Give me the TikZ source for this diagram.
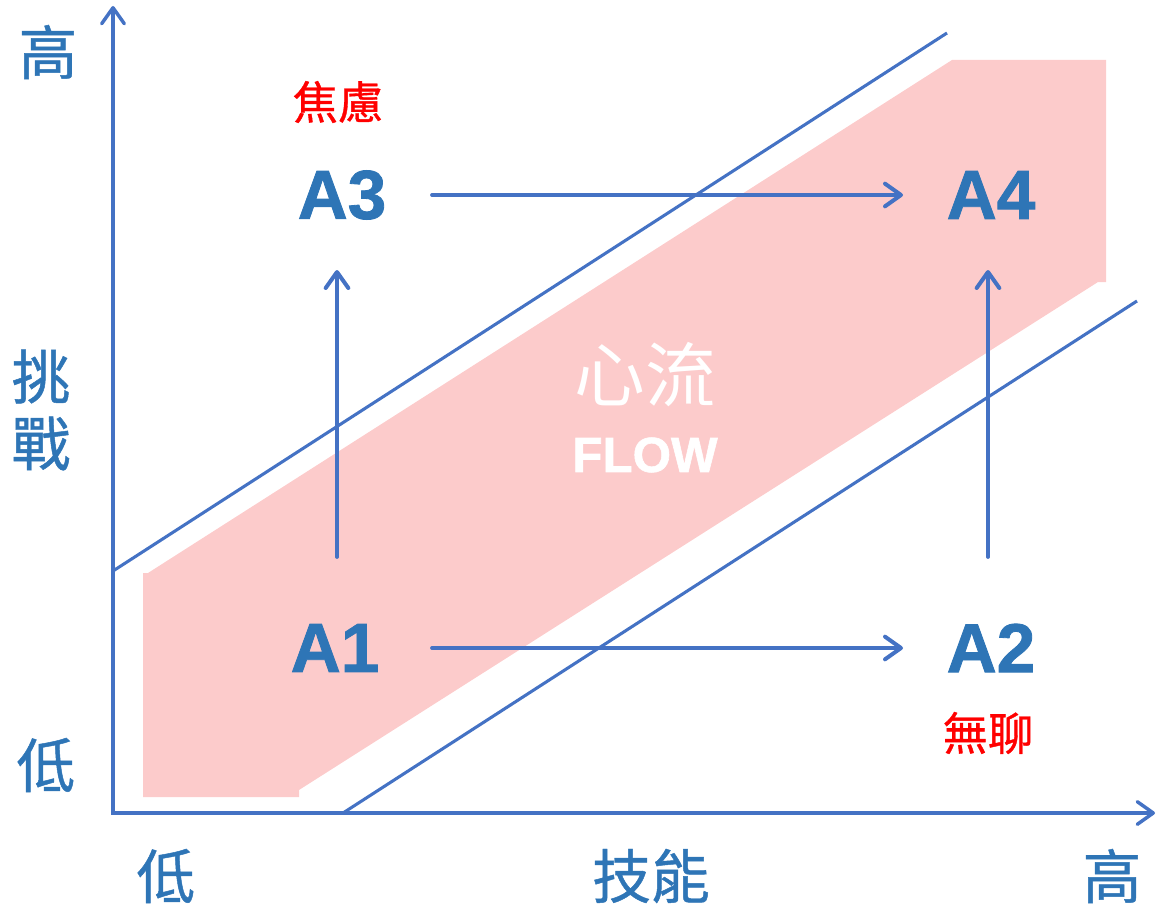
\documentclass[tikz,border=0pt]{standalone}
\usepackage{fontspec}
\setmainfont{Liberation Sans}
\newfontfamily\cjk{Noto Sans CJK TC}
\newfontfamily\cjkm{Noto Sans CJK TC}[FakeBold=0.8]
\newfontfamily\heavy{Liberation Sans Bold}[FakeBold=1.2]
\usetikzlibrary{arrows.meta,calc}
\definecolor{axisblue}{HTML}{4472C4}
\definecolor{textblue}{HTML}{2E75B6}
\definecolor{bandpink}{HTML}{FCCBCB}
\definecolor{alarmred}{HTML}{FF0000}
\tikzset{
  axisline/.style={draw=axisblue, line width=2.9pt, line cap=round, line join=miter},
  diagline/.style={draw=axisblue, line width=2.3pt},
  arr/.style={draw=axisblue, line width=2.8pt, line cap=round,
    -{Straight Barb[length=12pt,width=17pt,line width=3pt,round]}},
  axlabel/.style={text=textblue, font=\cjkm\fontsize{44}{50}\selectfont, inner sep=0pt},
  stage/.style={text=textblue, font=\heavy\fontsize{52}{57}\selectfont, inner sep=0pt},
  mood/.style={text=alarmred, font=\cjkm\fontsize{34}{38}\selectfont, inner sep=0pt},
}
\begin{document}
\begin{tikzpicture}[x=0.75pt,y=-0.75pt]
\useasboundingbox (0,0) rectangle (1157,906);
% flow band
\fill[bandpink] (143,797) -- (143,573) -- (148,573) -- (952,60) -- (1106,60)
  -- (1106,282) -- (1098,282) -- (299,790) -- (299,797) -- cycle;
% diagonal channel lines
\coordinate (u1) at (113,571); \coordinate (u2) at (947,33);
\coordinate (l1) at (343,813); \coordinate (l2) at (1137,301);
\draw[diagline] (u1) -- (u2);
\draw[diagline] (l1) -- (l2);
% axes
\coordinate (ytop) at (113,6);
\coordinate (O) at (113,813);
\coordinate (xend) at (1155,813);
\draw[axisline, {Straight Barb[length=12pt,width=17pt,line width=2.6pt,round]}-{Straight Barb[length=12pt,width=17pt,line width=2.6pt,round]}] (ytop) -- (O) -- (xend);
% axis labels
\node[axlabel] (yhi) at (48,52) {高};
\node[axlabel, align=center] (ychal) at (41,410) {挑\\[0pt]戰};
\node[axlabel] (ylo) at (46,765) {低};
\node[axlabel] (xlo) at (166,876) {低};
\node[axlabel] (xskill) at (651,876) {技能};
\node[axlabel] (xhi) at (1112,876) {高};
% stages
\node[stage] (A3) at (342,195) {A3};
\node[stage] (A4) at (991,195) {A4};
\node[stage] (A1) at (335,648) {A1};
\node[stage] (A2) at (991,648) {A2};
\node[mood] (anx) at (338,102) {焦慮};
\node[mood] (bore) at (988,733) {無聊};
% flow text
\node[text=white, font=\cjk\fontsize{53}{58}\selectfont, inner sep=0pt] (flowzh) at (645,375) {心流};
\node[text=white, font=\heavy\fontsize{37}{42}\selectfont, inner sep=0pt] (flowen) at (645,455) {FLOW};
% arrows
\draw[arr] ($(A3.center)+(90,0)$) -- ($(A4.center)+(-88,0)$);
\draw[arr] ($(A1.center)+(97,0)$) -- ($(A2.center)+(-88,0)$);
\draw[arr] ($(A1.center)+(2,-91)$) -- ($(A3.center)+(-5,75)$);
\draw[arr] ($(A2.center)+(-3,-91)$) -- ($(A4.center)+(-3,75)$);
\end{tikzpicture}
\end{document}
